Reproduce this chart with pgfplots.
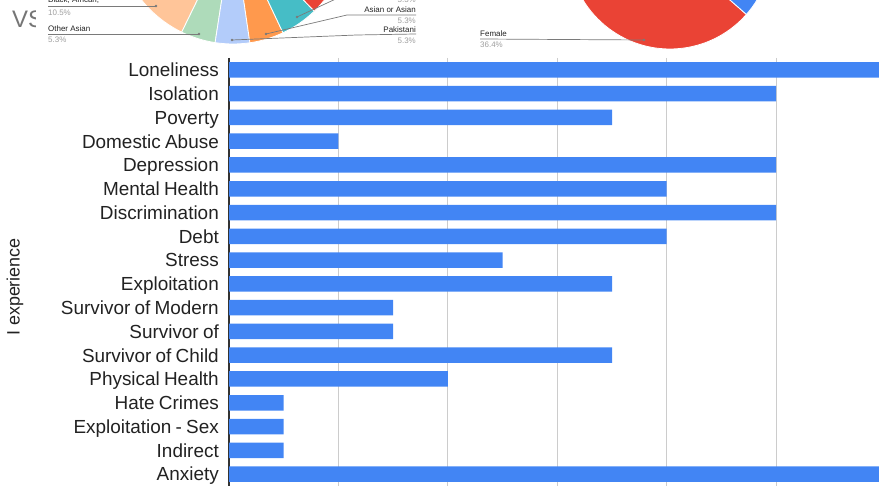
\documentclass[border=0pt]{standalone}
\usepackage{fontspec}
\setmainfont{Liberation Sans}
\newfontfamily\tickfont[WordSpace=0.8]{Liberation Sans}
\usepackage{pgfplots}
\pgfplotsset{compat=1.18}
\definecolor{barblue}{HTML}{4285F4}
\definecolor{peach}{HTML}{FFC599}
\definecolor{pgreen}{HTML}{AEDBBA}
\definecolor{plblue}{HTML}{B3CCFA}
\definecolor{porange}{HTML}{FF994D}
\definecolor{pteal}{HTML}{46BDC6}
\definecolor{pred}{HTML}{EA4335}
\definecolor{gridgray}{HTML}{CCCCCC}
\definecolor{axisgray}{HTML}{333333}
\definecolor{labgray}{HTML}{222222}
\definecolor{pctgray}{HTML}{9E9E9E}
\definecolor{leadgray}{HTML}{7A7A7A}
\definecolor{vsgray}{HTML}{757575}
\pgfplotstableread{
idx value
0 12
1 10
2 7
3 2
4 10
5 8
6 10
7 8
8 5
9 7
10 3
11 3
12 7
13 4
14 1
15 1
16 1
17 12
}\bardata
\begin{document}
\begin{tikzpicture}[x=1bp,y=1bp]
\path[use as bounding box] (0,0) rectangle (879,486);
\clip (0,0) rectangle (879,486);
% left pie fragment
\begin{scope}[shift={(233,559)}]
\fill[peach,draw=white,line width=0.8bp] (0,0) -- (206:117) arc[start angle=206,end angle=244,radius=117bp] -- cycle;
\fill[pgreen,draw=white,line width=0.8bp] (0,0) -- (244:117) arc[start angle=244,end angle=261.2,radius=117bp] -- cycle;
\fill[plblue,draw=white,line width=0.8bp] (0,0) -- (261.2:117) arc[start angle=261.2,end angle=278.3,radius=117bp] -- cycle;
\fill[porange,draw=white,line width=0.8bp] (0,0) -- (278.3:117) arc[start angle=278.3,end angle=295.3,radius=117bp] -- cycle;
\fill[pteal,draw=white,line width=0.8bp] (0,0) -- (295.3:117) arc[start angle=295.3,end angle=314,radius=117bp] -- cycle;
\fill[pred,draw=white,line width=0.8bp] (0,0) -- (314:117) arc[start angle=314,end angle=333,radius=117bp] -- cycle;
\end{scope}
% right pie fragment
\begin{scope}[shift={(670,538.7)}]
\fill[pred,draw=white,line width=0.8bp] (0,0) -- (187.7:101.7) arc[start angle=187.7,end angle=318.7,radius=101.7bp] -- cycle;
\fill[barblue,draw=white,line width=0.8bp] (0,0) -- (318.7:101.7) arc[start angle=318.7,end angle=360,radius=101.7bp] -- cycle;
\end{scope}
% labels (pixel coordinates, y downwards)
\begin{scope}[shift={(0,486)},y=-1bp]
\begin{scope}
\clip (0,0) rectangle (35,40);
\node[anchor=west,inner sep=0pt,text=vsgray,font=\fontsize{24}{24}\selectfont] at (12,19) {VS};
\end{scope}
\draw[leadgray,line width=0.7bp] (48,6) -- (156,6);
\fill[leadgray] (156,6) circle (1.3);
\draw[leadgray,line width=0.7bp] (48,34) -- (199,34);
\fill[leadgray] (199,34) circle (1.3);
\draw[leadgray,line width=0.7bp] (266,34) -- (347,15) -- (416,15);
\fill[leadgray] (266,34) circle (1.3);
\draw[leadgray,line width=0.7bp] (232,40) -- (357,35) -- (416,34);
\fill[leadgray] (232,40) circle (1.3);
\draw[leadgray,line width=0.7bp] (297,17) -- (340,-3);
\fill[leadgray] (297,17) circle (1.3);
\draw[leadgray,line width=0.7bp] (480,39) -- (644,40);
\fill[leadgray] (644,40) circle (1.3);
\begin{scope}[every node/.style={inner sep=0pt,font=\fontsize{8}{8}\selectfont}]
\node[anchor=west,text=labgray] at (48,0.5) {Black, African,};
\node[anchor=west,text=pctgray] at (48,12.3) {10.5\%};
\node[anchor=west,text=labgray] at (48,29) {Other Asian};
\node[anchor=west,text=pctgray] at (48,40) {5.3\%};
\node[anchor=east,text=pctgray] at (416,-0.5) {5.3\%};
\node[anchor=east,text=labgray] at (416,9.3) {Asian or Asian};
\node[anchor=east,text=pctgray] at (416,20.7) {5.3\%};
\node[anchor=east,text=labgray] at (416,30) {Pakistani};
\node[anchor=east,text=pctgray] at (416,40.7) {5.3\%};
\node[anchor=west,text=labgray] at (480,33.3) {Female};
\node[anchor=west,text=pctgray] at (480,44.3) {36.4\%};
\end{scope}
\node[rotate=90,inner sep=0pt,text=labgray,font=\fontsize{18}{18}\selectfont] at (15,287) {I experience};
\end{scope}
\begin{axis}[
  at={(229bp,0bp)}, anchor=south west,
  width=650bp, height=428bp, scale only axis,
  xmin=0, xmax=11.88, ymin=-0.5, ymax=17.5, y dir=reverse,
  axis lines*=left,
  x axis line style={draw=none},
  y axis line style={draw=axisgray,line width=1.2bp},
  xtick={2,4,6,8,10}, xticklabels={},
  xmajorgrids=true, grid style={draw=gridgray,line width=1bp},
  major tick length=0pt,
  ytick={0,...,17},
  yticklabels={Loneliness,Isolation,Poverty,Domestic Abuse,Depression,Mental Health,Discrimination,Debt,Stress,Exploitation,Survivor of Modern,Survivor of,Survivor of Child,Physical Health,Hate Crimes,Exploitation - Sex,Indirect,Anxiety},
  yticklabel style={font=\tickfont\fontsize{19}{19}\selectfont,text=labgray,inner sep=0pt,anchor=east,text height=13.6bp,text depth=0pt,xshift=-10bp},
  xbar, bar width=15.5bp,
]
\addplot[fill=barblue,draw=none] table[x=value,y=idx] {\bardata};
\end{axis}
\end{tikzpicture}
\end{document}
